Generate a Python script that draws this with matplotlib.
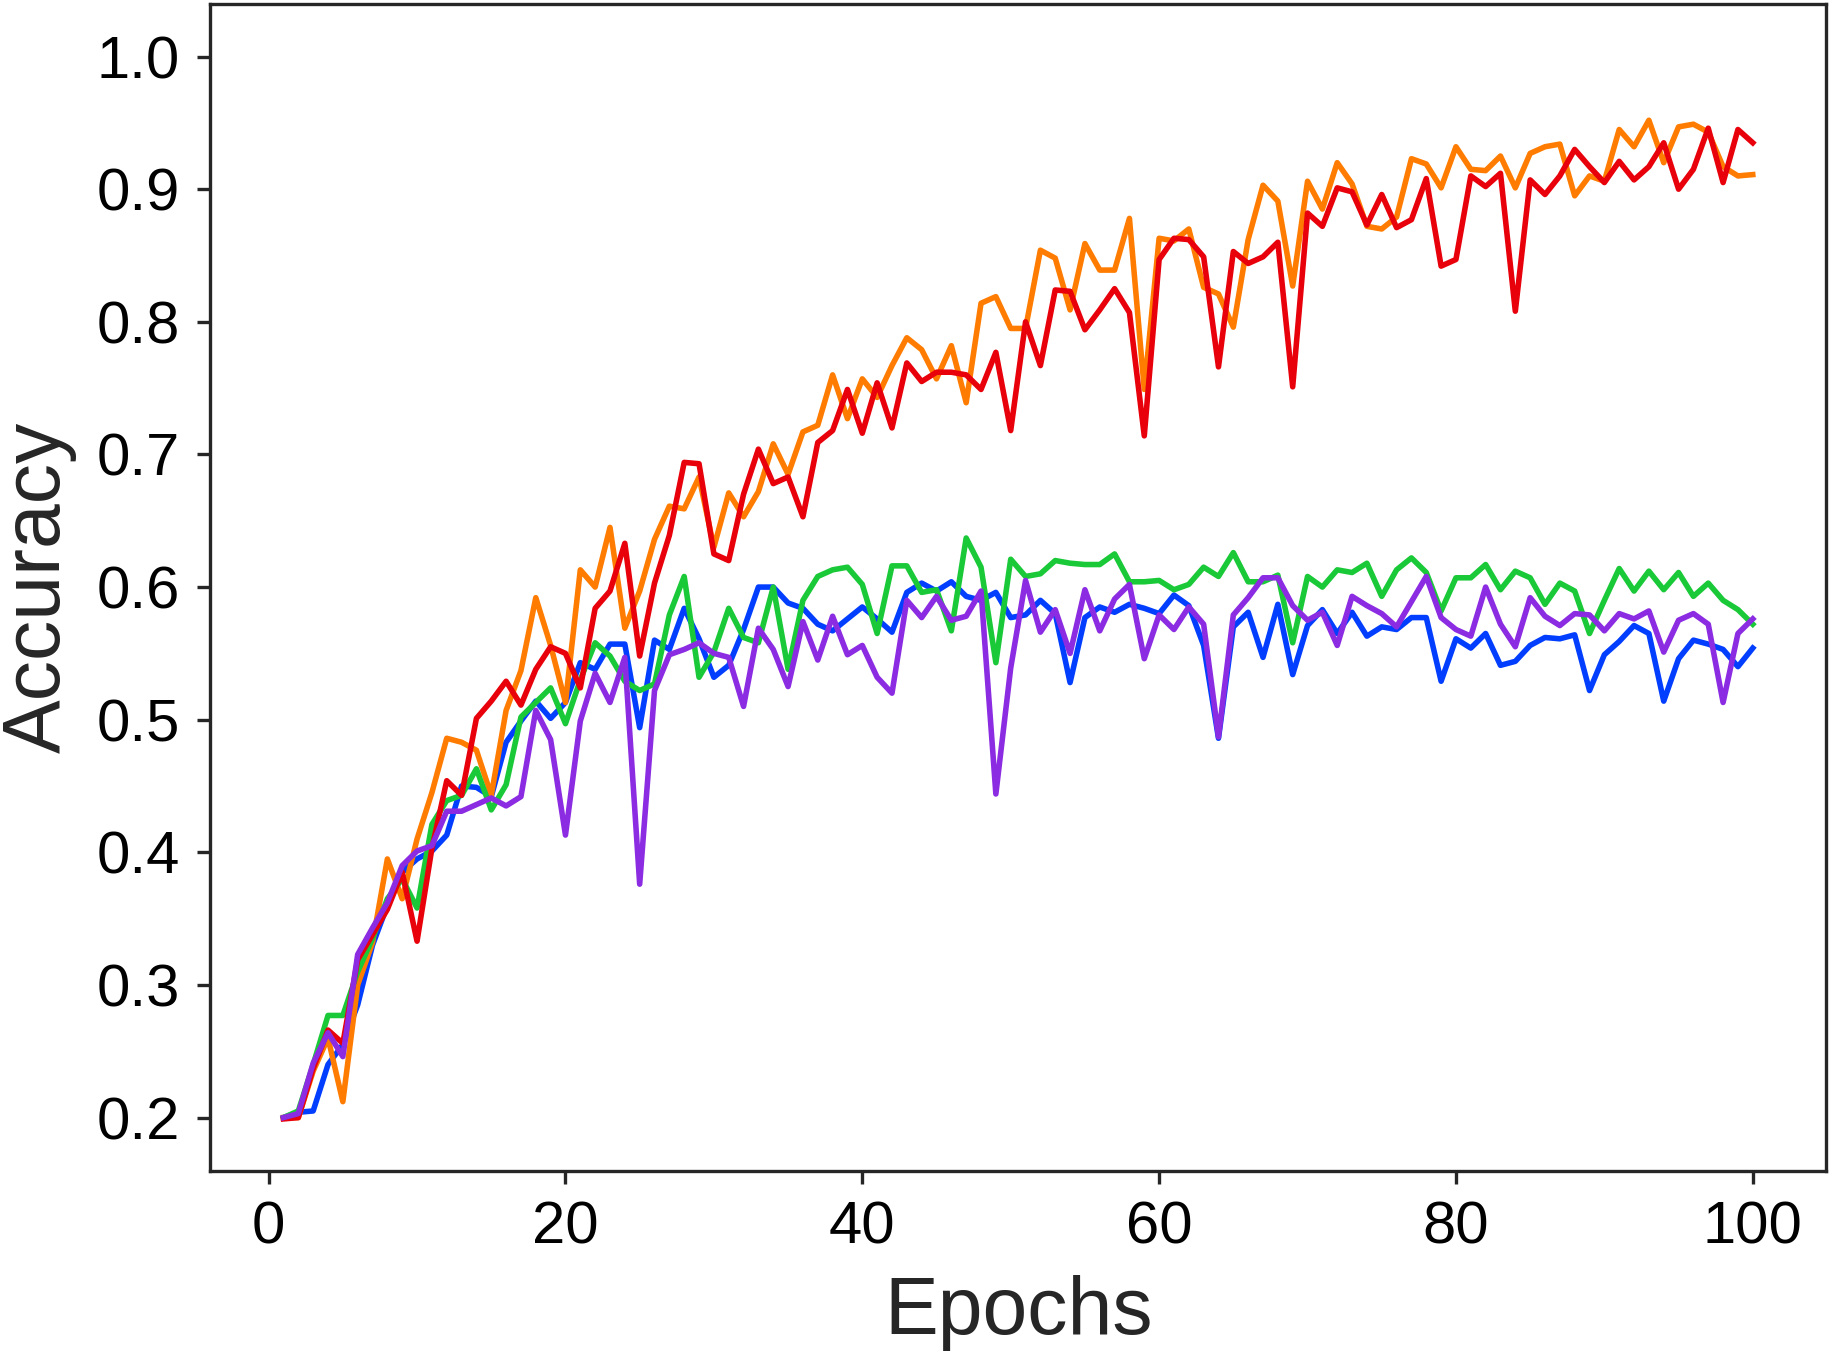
import matplotlib
matplotlib.use("Agg")
import matplotlib.pyplot as plt
import numpy as np

epochs = list(range(1, 101))

acc_blue = [0.200, 0.204, 0.205, 0.240, 0.255, 0.285, 0.330, 0.360, 0.385, 0.395,
            0.401, 0.413, 0.450, 0.449, 0.442, 0.483, 0.499, 0.514, 0.501, 0.513,
            0.543, 0.538, 0.557, 0.557, 0.494, 0.560, 0.553, 0.584, 0.561, 0.532,
            0.541, 0.568, 0.600, 0.600, 0.588, 0.584, 0.572, 0.567, 0.576, 0.585,
            0.576, 0.566, 0.596, 0.603, 0.597, 0.604, 0.593, 0.590, 0.596, 0.577,
            0.579, 0.590, 0.580, 0.528, 0.577, 0.585, 0.581, 0.587, 0.584, 0.580,
            0.594, 0.586, 0.556, 0.486, 0.570, 0.581, 0.547, 0.587, 0.534, 0.571,
            0.583, 0.565, 0.581, 0.563, 0.570, 0.568, 0.577, 0.577, 0.529, 0.561,
            0.554, 0.565, 0.541, 0.544, 0.556, 0.562, 0.561, 0.564, 0.522, 0.549,
            0.559, 0.571, 0.565, 0.514, 0.546, 0.560, 0.557, 0.553, 0.540, 0.554]

acc_orange = [0.200, 0.200, 0.235, 0.260, 0.212, 0.300, 0.332, 0.395, 0.365, 0.410,
              0.445, 0.486, 0.483, 0.477, 0.443, 0.507, 0.537, 0.592, 0.556, 0.513,
              0.613, 0.600, 0.645, 0.569, 0.597, 0.636, 0.661, 0.659, 0.683, 0.630,
              0.671, 0.653, 0.672, 0.708, 0.685, 0.717, 0.722, 0.760, 0.727, 0.757,
              0.743, 0.767, 0.788, 0.779, 0.757, 0.782, 0.739, 0.814, 0.819, 0.795,
              0.795, 0.854, 0.848, 0.809, 0.859, 0.839, 0.839, 0.878, 0.749, 0.863,
              0.861, 0.870, 0.826, 0.821, 0.796, 0.862, 0.903, 0.891, 0.827, 0.906,
              0.885, 0.920, 0.904, 0.872, 0.870, 0.879, 0.923, 0.919, 0.901, 0.932,
              0.915, 0.914, 0.925, 0.901, 0.927, 0.932, 0.934, 0.895, 0.910, 0.906,
              0.945, 0.932, 0.952, 0.920, 0.947, 0.949, 0.943, 0.917, 0.910, 0.911]

acc_green = [0.200, 0.205, 0.240, 0.277, 0.277, 0.310, 0.335, 0.365, 0.380, 0.358,
             0.421, 0.439, 0.443, 0.463, 0.432, 0.451, 0.502, 0.513, 0.524, 0.497,
             0.530, 0.558, 0.548, 0.529, 0.522, 0.527, 0.579, 0.608, 0.532, 0.551,
             0.584, 0.562, 0.558, 0.600, 0.538, 0.590, 0.608, 0.613, 0.615, 0.602,
             0.565, 0.616, 0.616, 0.596, 0.598, 0.567, 0.637, 0.615, 0.543, 0.621,
             0.608, 0.610, 0.620, 0.618, 0.617, 0.617, 0.625, 0.604, 0.604, 0.605,
             0.598, 0.602, 0.615, 0.608, 0.626, 0.604, 0.604, 0.609, 0.558, 0.608,
             0.600, 0.613, 0.611, 0.618, 0.593, 0.613, 0.622, 0.611, 0.582, 0.607,
             0.607, 0.617, 0.598, 0.612, 0.607, 0.587, 0.603, 0.597, 0.565, 0.590,
             0.614, 0.597, 0.612, 0.598, 0.611, 0.593, 0.603, 0.590, 0.583, 0.572]

acc_red = [0.199, 0.200, 0.237, 0.266, 0.256, 0.319, 0.338, 0.357, 0.385, 0.333,
           0.403, 0.454, 0.443, 0.501, 0.514, 0.529, 0.511, 0.538, 0.555, 0.550,
           0.524, 0.584, 0.597, 0.633, 0.548, 0.603, 0.639, 0.694, 0.693, 0.625,
           0.620, 0.670, 0.704, 0.678, 0.683, 0.653, 0.709, 0.718, 0.749, 0.716,
           0.754, 0.720, 0.769, 0.755, 0.762, 0.762, 0.760, 0.749, 0.777, 0.718,
           0.800, 0.767, 0.824, 0.823, 0.794, 0.809, 0.825, 0.807, 0.714, 0.847,
           0.863, 0.862, 0.849, 0.766, 0.853, 0.844, 0.849, 0.860, 0.751, 0.882,
           0.872, 0.901, 0.898, 0.873, 0.896, 0.871, 0.877, 0.908, 0.842, 0.847,
           0.910, 0.902, 0.912, 0.808, 0.907, 0.896, 0.910, 0.930, 0.917, 0.905,
           0.921, 0.907, 0.917, 0.935, 0.900, 0.915, 0.946, 0.905, 0.945, 0.935]

acc_purple = [0.200, 0.203, 0.241, 0.264, 0.246, 0.323, 0.343, 0.362, 0.390, 0.401,
              0.405, 0.431, 0.431, 0.436, 0.441, 0.435, 0.442, 0.507, 0.485, 0.413,
              0.499, 0.535, 0.513, 0.547, 0.376, 0.522, 0.549, 0.553, 0.558, 0.550,
              0.547, 0.510, 0.569, 0.553, 0.525, 0.574, 0.545, 0.578, 0.549, 0.556,
              0.532, 0.520, 0.590, 0.577, 0.593, 0.575, 0.578, 0.597, 0.444, 0.539,
              0.605, 0.566, 0.583, 0.550, 0.598, 0.567, 0.591, 0.602, 0.546, 0.579,
              0.568, 0.585, 0.572, 0.487, 0.579, 0.592, 0.607, 0.607, 0.586, 0.575,
              0.581, 0.556, 0.593, 0.586, 0.580, 0.570, 0.589, 0.608, 0.577, 0.568,
              0.563, 0.600, 0.572, 0.555, 0.592, 0.578, 0.571, 0.580, 0.579, 0.567,
              0.580, 0.576, 0.582, 0.551, 0.575, 0.580, 0.572, 0.513, 0.565, 0.576]

series = [acc_blue, acc_orange, acc_green, acc_red, acc_purple]
colors = ["#023eff", "#ff7c00", "#1ac938", "#e8000b", "#8b2be2"]

x_ticks = [0, 20, 40, 60, 80, 100]
y_ticks = [0.2, 0.3, 0.4, 0.5, 0.6, 0.7, 0.8, 0.9, 1.0]

plt.rcParams['font.family'] = ['Liberation Sans', 'DejaVu Sans']

fig = plt.figure(figsize=(18.31, 13.51), dpi=100)
ax = fig.add_axes([0.1147, 0.1335, 0.8827, 0.8639])

for ys, c in zip(series, colors):
    ax.plot(epochs, ys, color=c, linewidth=4.0)

ax.set_ylim(0.16, 1.04)
ax.set_xticks(x_ticks)
ax.set_yticks(y_ticks)
ax.set_yticklabels([f"{v:.1f}" for v in y_ticks])

for s in ax.spines.values():
    s.set_linewidth(2.4)
    s.set_color("#262626")

ax.tick_params(axis='both', which='major', length=9.5, width=2.4, color="#262626",
               labelsize=43, labelcolor="black", pad=12)

ax.set_xlabel("Epochs", fontsize=58, color="#262626", labelpad=14)
ax.set_ylabel("Accuracy", fontsize=58, color="#262626", labelpad=14)

fig.savefig("out.png", dpi=100)
